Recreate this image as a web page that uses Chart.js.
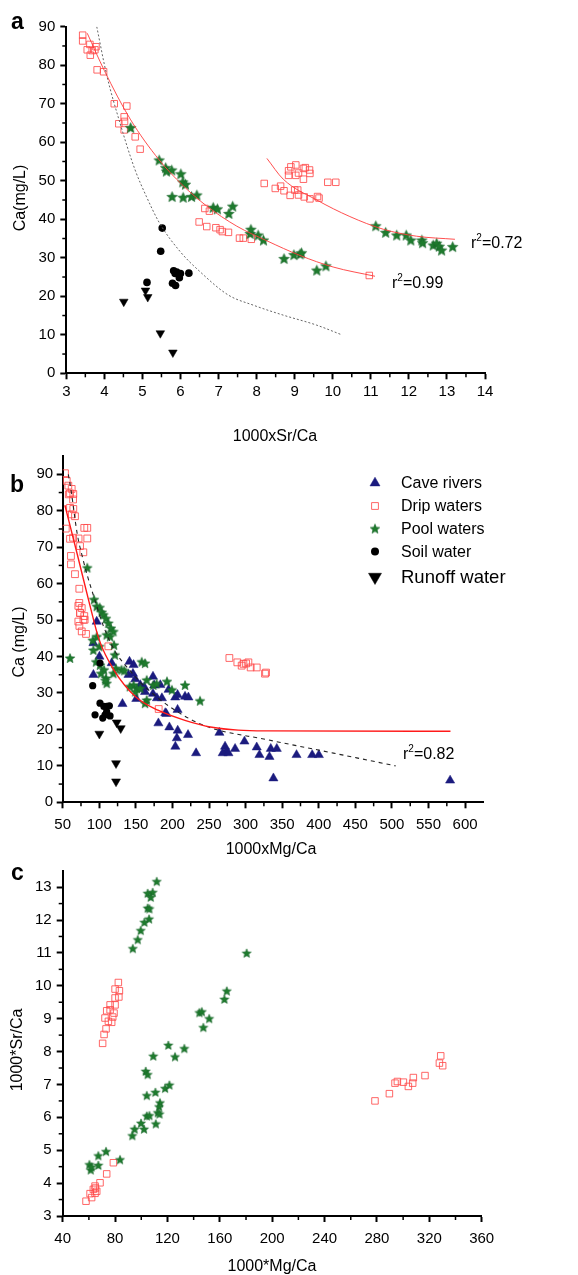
<!DOCTYPE html>
<html>
<head>
<meta charset="utf-8">
<script src="https://cdn.jsdelivr.net/npm/chart.js@4.4.0/dist/chart.umd.min.js"></script>
<style>
  html, body { margin: 0; padding: 0; background: #fff; }
  body { width: 578px; height: 1275px; position: relative; overflow: hidden; }
  canvas { position: absolute; left: 0; }
</style>
</head>
<body>
<canvas id="chartA" width="578" height="450" style="top:0"></canvas>
<canvas id="chartB" width="578" height="415" style="top:450px"></canvas>
<canvas id="chartC" width="578" height="410" style="top:865px"></canvas>
<script>
// ---- panel a : Ca vs 1000xSr/Ca ----
const aDripX = [3.43,3.43,3.55,3.62,3.63,3.68,3.75,3.78,3.81,3.98,4.26,4.59,4.52,4.53,4.38,4.52,4.81,4.94,
  6.64,6.76,6.49,6.69,6.93,7.04,7.10,7.26,7.55,7.65,7.86,10.96,
  8.20,8.49,8.63,8.72,8.84,8.90,9.03,8.84,9.03,9.23,9.28,9.39,9.40,9.23,8.88,9.00,9.08,9.10,9.25,9.40,9.60,9.64,9.87,10.08,9.10];
const aDripY = [87.8,86.3,84.0,85.4,82.6,83.8,84.0,84.8,78.8,78.3,70.0,69.4,66.6,65.4,64.8,63.2,61.4,58.2,
  42.8,42.1,39.3,38.1,37.8,37.3,36.8,36.6,35.1,35.1,34.8,25.4,
  49.3,48.0,48.6,47.4,52.6,53.6,54.1,51.4,51.4,53.2,53.4,52.8,51.9,50.4,46.2,47.6,47.6,46.3,45.8,45.3,45.9,45.5,49.6,49.6,52.0];
const aPoolX = [4.69,5.44,5.61,5.63,5.77,6.01,6.06,6.13,5.78,6.07,6.29,6.43,6.86,6.97,7.27,7.37,7.83,7.85,8.04,8.18,
  8.72,8.98,9.14,9.18,9.58,9.82,11.13,11.39,11.68,11.93,12.05,12.34,12.36,12.64,12.73,12.80,12.86,13.15];
const aPoolY = [63.8,55.4,53.4,52.5,52.8,51.8,49.7,49.1,45.9,45.7,45.9,46.3,43.1,42.7,41.5,43.4,36.3,37.4,35.9,34.6,
  29.8,30.8,31.0,31.3,26.8,27.9,38.3,36.6,35.9,35.9,34.6,34.6,33.9,33.3,33.8,33.0,32.0,32.9];
const aSoilX = [5.52,5.48,5.12,5.82,5.86,6.00,5.97,5.79,5.87,6.22,5.90];
const aSoilY = [37.7,31.7,23.6,26.6,25.9,25.9,24.8,23.4,22.8,26.0,26.3];
const aRunoffX = [4.51,5.08,5.14,5.47,5.80];
const aRunoffY = [18.6,21.5,19.8,10.4,5.4];
const aFit1X = [3.55,4.00,4.68,5.44,6.04,6.68,7.48,8.27,9.14,10.01,11.11];
const aFit1Y = [88.3,78.6,66.0,55.4,49.0,43.5,38.2,34.4,30.6,27.6,25.2];
const aFit2X = [8.27,8.70,9.58,10.45,11.33,12.20,13.21];
const aFit2Y = [55.8,50.4,45.0,40.7,37.4,35.6,34.8];
const aDashX = [3.80,4.06,4.41,4.80,5.10,5.45,6.00,6.50,7.26,7.91,8.70,9.58,10.21];
const aDashY = [90,77.5,65,53,46,39,31.5,26.5,20.3,17.7,15.1,12.5,10.1];
const aXTicks = [3,4,5,6,7,8,9,10,11,12,13,14];
const aYTicks = [0,10,20,30,40,50,60,70,80,90];
const aXMinor = [3.5,4.5,5.5,6.5,7.5,8.5,9.5,10.5,11.5,12.5,13.5];
const aYMinor = [5,15,25,35,45,55,65,75,85];

// ---- panel b : Ca vs 1000xMg/Ca ----
const bCaveX = [96.5,92,92,100.2,117,131.7,141.3,139.9,146,146.9,149.2,150.6,156,161.5,173.4,173.4,178.8,183.4,185.6,190.2,
  194.7,203.8,207,207,180.8,195.8,207.2,204,206,221.3,217.2,221.8,232.3,264.2,271.9,273.3,268.7,276.5,285.6,298.4,
  315.2,318.9,332.6,334.4,342.6,338,369.6,391,400.1,579.5,158.3,162.5,175,191.7];
const bCaveY = [49.6,43.7,35,40,38.2,27,38.6,35,35.3,37.7,33.8,28.4,32.2,31.6,34.5,29.8,28.6,32.2,28.6,24.5,
  30.9,28.8,29.5,25.4,21.7,20.6,19.7,15.3,17.6,18.5,29,28.8,13.5,19.1,15.3,13.9,13.5,13.5,14.7,16.7,
  15.1,13,12.5,14.7,14.7,6.6,13,13,13,6,31.2,30.3,32.1,24.3];
const bDripX = [53.1,55.5,57.7,62.3,64.5,60,58.3,64.2,64.5,60,66.8,62.5,79.5,83.6,54.2,83.6,60,64.2,71.7,73.7,
  78.2,61.3,61.3,66.8,72.7,72.7,76,73.7,79.5,80,71.4,72.8,76,81.9,73.7,78.3,71.4,112.4,181.2,
  277.8,288.7,294.6,300.6,303.8,306.9,315.2,326.5,327.9,297];
const bDripY = [90.3,88.2,86.9,86,84.6,84.8,84.5,83.1,80.5,80.8,78.5,79,75.3,75.3,75.1,72.4,72.3,72.6,72.4,70.3,
  68.6,67.6,65.3,62.6,58.6,54.7,53.3,52,51.1,50.1,49.6,48.4,46.9,46.2,51.9,50.1,53.9,42.8,25.6,
  39.6,38.4,37.5,38.1,38.4,37,37,35.3,35.6,38];
const bPoolX = [83.6,92.8,96.5,100.5,103.3,105.6,109.2,112.4,116,119.3,110.1,114.7,120.2,100.1,91.9,91,96.5,60,95.6,101,
  106.5,102.4,109.2,110.1,108.3,121.3,122.7,130.4,134.2,119.3,146.9,151.5,149.2,156,141.7,158,162.5,164.8,173.9,164.8,
  162.5,192.5,199.3,217.2,237.7,178.3];
const bPoolY = [64.4,55.7,53.8,53.5,52.2,51.5,50.5,49.2,47.8,46.9,46,45.5,43.2,42.8,41.8,44.5,45.5,39.6,38.6,37.7,
  36.4,35.4,34.1,32.7,33.5,40.5,36.8,36.4,36.2,35.4,32.2,31.3,30.4,31.3,31.8,38.6,38.2,33.6,32.2,28.1,
  27.2,33.2,30.9,32.2,27.9,32.6];
const bSoilX = [91,101,94.2,101,104.7,110.1,113.8,110.1,114.7,107.9,106.3];
const bSoilY = [32,38.2,24,27.2,23.1,26.3,26.5,24.9,23.7,24,26.3];
const bRunoffX = [100.1,123.8,129.3,122.9,122.9];
const bRunoffY = [18.8,21.9,20.3,10.7,5.7];
const bFitX = [53,70,86,100,120,150,181,217,254,290,330,580];
const bFitY = [81.5,68,55,44.5,36.3,28.9,25.2,22.5,20.6,19.8,19.6,19.5];
const bDashX = [57.7,61.5,70,78,84,94,105,120.8,141.7,162.5,204,247,329,420,505];
const bDashY = [90,85.5,73.5,66.5,62,55.5,48.7,41.7,36.2,31.7,25.2,20.8,17.2,13.5,10];
const bXTicks = [50,100,150,200,250,300,350,400,450,500,550,600];
const bYTicks = [0,10,20,30,40,50,60,70,80,90];
const bXMinor = [75,125,175,225,275,325,375,425,475,525,575];
const bYMinor = [5,15,25,35,45,55,65,75,85];
const bLegend = ['Cave rivers', 'Drip waters', 'Pool waters', 'Soil water', 'Runoff water'];

// ---- panel c : 1000*Sr/Ca vs 1000*Mg/Ca ----
const cDripX = [82.5,80,83.3,82.9,80,80,76.2,76.2,73.6,79.2,78.2,72.3,74.9,77.4,73.1,71.6,70.5,
  78.7,73.6,68.5,64.7,63.4,60.9,64.7,62.1,57.8,66,65,
  278.5,289.5,293.8,295.6,300.2,304,307.3,307.8,316.7,327.7,328.7,330.2];
const cDripY = [10.1,9.9,9.85,9.66,9.63,9.42,9.42,9.27,9.24,9.17,9.05,9.02,8.92,8.89,8.69,8.52,8.25,
  4.62,4.28,4.01,3.91,3.81,3.68,3.69,3.56,3.45,3.75,3.85,
  6.5,6.72,7.04,7.09,7.07,6.94,7.04,7.21,7.27,7.65,7.87,7.57];
const cPoolX = [111.8,104.9,108.7,107.2,104.9,106.2,106,102.4,99.6,97.3,93.5,180.5,144.4,146.2,151.9,147.4,163.5,165.3,120.7,132.9,
  109.2,125.8,103.4,104.9,104.2,110.8,118.2,121.5,114.3,113.6,112.6,113.9,104.2,106.2,111.1,99.8,94.9,102.1,93.2,73.1,
  67.2,83.8,60.4,67.2,61.4,62];
const cPoolY = [13.18,12.82,12.85,12.7,12.37,12.35,12.04,11.94,11.69,11.41,11.14,11,9.19,9.22,9.01,8.74,9.6,9.85,8.2,8.1,
  7.87,7.85,7.41,7.31,6.67,6.77,6.89,6.99,6.45,6.33,6.15,6.11,6.05,6.06,5.81,5.83,5.65,5.65,5.45,4.97,
  4.84,4.72,4.57,4.55,4.41,4.5];
const cXTicks = [40,80,120,160,200,240,280,320,360];
const cYTicks = [3,4,5,6,7,8,9,10,11,12,13];
const cXMinor = [60,100,140,180,220,260,300,340];
const cYMinor = [3.5,4.5,5.5,6.5,7.5,8.5,9.5,10.5,11.5,12.5];

const FONT = '"Liberation Sans", Arial, sans-serif';
const RED = 'rgba(255,75,75,0.85)';
const GREEN = '#1e7b2d';
const NAVY = '#1b1b7e';

const pts = (xs, ys) => xs.map((x, i) => ({ x, y: ys[i] }));

function makeStar(r) {
  const c = document.createElement('canvas');
  const s = Math.ceil(2 * r + 2);
  c.width = s; c.height = s;
  const g = c.getContext('2d');
  g.beginPath();
  for (let i = 0; i < 10; i++) {
    const rad = i % 2 === 0 ? r : r * 0.45;
    const ang = -Math.PI / 2 + i * Math.PI / 5;
    const x = s / 2 + rad * Math.cos(ang), y = s / 2 + 0.6 + rad * Math.sin(ang);
    if (i) g.lineTo(x, y); else g.moveTo(x, y);
  }
  g.closePath();
  g.fillStyle = GREEN; g.fill();
  g.strokeStyle = '#17652a'; g.lineWidth = 0.6; g.stroke();
  return c;
}

function dots(label, xs, ys, style) {
  return Object.assign({ label, data: pts(xs, ys), showLine: false }, style);
}
function curve(xs, ys, color, width, dash) {
  return { data: pts(xs, ys), showLine: true, pointRadius: 0, borderColor: color, borderWidth: width,
    borderDash: dash || [], cubicInterpolationMode: 'monotone', fill: false };
}
const dripStyle = r => ({ pointStyle: 'rect', pointRadius: r, pointBorderColor: RED, pointBackgroundColor: 'rgba(0,0,0,0)', pointBorderWidth: 1 });
const starStyle = r => ({ pointStyle: makeStar(r), pointRadius: r });
const soilStyle = r => ({ pointStyle: 'circle', pointRadius: r, pointBackgroundColor: '#000', pointBorderColor: '#000', pointBorderWidth: 0 });
const runoffStyle = r => ({ pointStyle: 'triangle', pointRotation: 180, pointRadius: r, pointBackgroundColor: '#000', pointBorderColor: '#000', pointBorderWidth: 0.5 });
const caveStyle = r => ({ pointStyle: 'triangle', pointRadius: r, pointBackgroundColor: NAVY, pointBorderColor: NAVY, pointBorderWidth: 0.5 });

function axis(min, max, ticks, size, pad, horizontal) {
  return {
    type: 'linear', min, max,
    afterBuildTicks: s => { s.ticks = ticks.map(v => ({ value: v })); },
    afterFit: s => {
      if (horizontal) s.height = size; else s.width = size;
      s.paddingTop = s.paddingBottom = s.paddingLeft = s.paddingRight = 0;
    },
    grid: { drawOnChartArea: false, drawTicks: true, tickLength: 6, tickWidth: 2, tickColor: '#000' },
    border: { display: true, color: '#000', width: 2 },
    ticks: { color: '#000', padding: pad, autoSkip: false, maxRotation: 0, font: { family: FONT, size: 15 } },
    title: { display: false }
  };
}

function minorTicks(xs, ys) {
  return {
    id: 'minorTicks',
    afterDraw(chart) {
      const { ctx, chartArea, scales } = chart;
      ctx.save();
      ctx.strokeStyle = '#000';
      ctx.lineWidth = 1.5;
      xs.forEach(v => {
        const p = scales.x.getPixelForValue(v);
        ctx.beginPath(); ctx.moveTo(p, chartArea.bottom); ctx.lineTo(p, chartArea.bottom + 4); ctx.stroke();
      });
      ys.forEach(v => {
        const p = scales.y.getPixelForValue(v);
        ctx.beginPath(); ctx.moveTo(chartArea.left, p); ctx.lineTo(chartArea.left - 4, p); ctx.stroke();
      });
      ctx.restore();
    }
  };
}

// plain labels; "r2=..." labels get a raised small 2
function texts(items) {
  return {
    id: 'texts',
    afterDraw(chart) {
      const ctx = chart.ctx;
      items.forEach(t => {
        ctx.save();
        ctx.font = t.font || `16px ${FONT}`;
        ctx.fillStyle = '#000';
        ctx.textAlign = t.align || 'left';
        ctx.textBaseline = t.base || 'alphabetic';
        ctx.translate(t.x, t.y);
        if (t.rot) ctx.rotate(t.rot);
        if (t.r2) {
          ctx.fillText('r', 0, 0);
          let w = ctx.measureText('r').width;
          ctx.font = `10px ${FONT}`;
          ctx.fillText('2', w, -7);
          w += ctx.measureText('2').width;
          ctx.font = `16px ${FONT}`;
          ctx.fillText('=' + t.r2, w, 0);
        } else {
          ctx.fillText(t.text, 0, 0);
        }
        ctx.restore();
      });
    }
  };
}

// legend for panel b, drawn from the dataset styles
const legendRows = [33, 56, 78.5, 101.5, 127];
const legendSizes = [5.8, 4.8, 0, 4, 7.5];
const legendFonts = [16, 16, 16, 16, 18.5];
const legendB = {
  id: 'legendB',
  afterDraw(chart) {
    const ctx = chart.ctx;
    bLegend.forEach((name, i) => {
      const ds = chart.data.datasets.find(d => d.label === name);
      const x = 375, y = legendRows[i];
      ctx.save();
      if (ds.pointStyle instanceof HTMLCanvasElement) {
        const im = ds.pointStyle;
        ctx.drawImage(im, x - im.width / 2, y - im.height / 2);
      } else {
        ctx.fillStyle = ds.pointBackgroundColor;
        ctx.strokeStyle = ds.pointBorderColor;
        ctx.lineWidth = ds.pointBorderWidth;
        Chart.helpers.drawPoint(ctx, { pointStyle: ds.pointStyle, radius: legendSizes[i],
          rotation: ds.pointRotation || 0, borderWidth: ds.pointBorderWidth }, x, y);
      }
      ctx.fillStyle = '#000';
      ctx.font = `${legendFonts[i]}px ${FONT}`;
      ctx.textBaseline = 'middle';
      ctx.fillText(name, 401, y + 1);
      ctx.restore();
    });
  }
};

const common = {
  responsive: false,
  animation: false,
  plugins: { legend: { display: false }, tooltip: { enabled: false } }
};

new Chart(document.getElementById('chartA'), {
  type: 'scatter',
  data: {
    datasets: [
      curve(aFit1X, aFit1Y, 'rgba(255,60,60,0.9)', 1),
      curve(aFit2X, aFit2Y, 'rgba(255,60,60,0.9)', 1),
      curve(aDashX, aDashY, '#666', 1, [2, 2]),
      dots(null, aRunoffX, aRunoffY, runoffStyle(5)),
      dots(null, aSoilX, aSoilY, soilStyle(3.8)),
      dots(null, aPoolX, aPoolY, starStyle(5.5)),
      dots(null, aDripX, aDripY, dripStyle(4.6))
    ]
  },
  options: Object.assign({}, common, {
    layout: { padding: { left: 0, top: 26.7, right: 93, bottom: 0 } },
    scales: {
      x: axis(3, 14, aXTicks, 450 - 373.3, 4, true),
      y: axis(0, 90, aYTicks, 66.3, 5, false)
    }
  }),
  plugins: [minorTicks(aXMinor, aYMinor), texts([
    { text: 'a', x: 11, y: 29, font: `bold 23px ${FONT}` },
    { text: 'Ca(mg/L)', x: 21, y: 198, rot: -Math.PI / 2, align: 'center', base: 'middle' },
    { text: '1000xSr/Ca', x: 275, y: 437, align: 'center', base: 'middle' },
    { r2: '0.72', x: 471, y: 248 },
    { r2: '0.99', x: 392, y: 288 }
  ])]
});

new Chart(document.getElementById('chartB'), {
  type: 'scatter',
  data: {
    datasets: [
      curve(bFitX, bFitY, '#ff1a1a', 1.4),
      curve(bDashX, bDashY, '#222', 1.1, [4, 4]),
      dots('Runoff water', bRunoffX, bRunoffY, runoffStyle(5.2)),
      dots('Soil water', bSoilX, bSoilY, soilStyle(3.6)),
      dots('Pool waters', bPoolX, bPoolY, starStyle(5)),
      dots('Drip waters', bDripX, bDripY, dripStyle(4.8)),
      dots('Cave rivers', bCaveX, bCaveY, caveStyle(5.3))
    ]
  },
  options: Object.assign({}, common, {
    layout: { padding: { left: 0, top: 6.1, right: 94.6, bottom: 0 } },
    scales: {
      x: axis(50, 625, bXTicks, 415 - 352.3, 8, true),
      y: axis(0, 95, bYTicks, 62.7, 3.5, false)
    }
  }),
  plugins: [minorTicks(bXMinor, bYMinor), legendB, texts([
    { text: 'b', x: 10, y: 42, font: `bold 23px ${FONT}` },
    { text: 'Ca (mg/L)', x: 20, y: 192, rot: -Math.PI / 2, align: 'center', base: 'middle' },
    { text: '1000xMg/Ca', x: 271, y: 400, align: 'center', base: 'middle' },
    { r2: '0.82', x: 403, y: 309 }
  ])]
});

new Chart(document.getElementById('chartC'), {
  type: 'scatter',
  data: {
    datasets: [
      dots(null, cPoolX, cPoolY, starStyle(4.7)),
      dots(null, cDripX, cDripY, dripStyle(4.6))
    ]
  },
  options: Object.assign({}, common, {
    layout: { padding: { left: 0, top: 5.2, right: 96.3, bottom: 0 } },
    scales: {
      x: axis(40, 360, cXTicks, 410 - 351, 8, true),
      y: axis(3, 13.5, cYTicks, 62.7, 5, false)
    }
  }),
  plugins: [minorTicks(cXMinor, cYMinor), texts([
    { text: 'c', x: 11, y: 15, font: `bold 23px ${FONT}` },
    { text: '1000*Sr/Ca', x: 18, y: 185, rot: -Math.PI / 2, align: 'center', base: 'middle' },
    { text: '1000*Mg/Ca', x: 272, y: 402, align: 'center', base: 'middle' }
  ])]
});
</script>
</body>
</html>
